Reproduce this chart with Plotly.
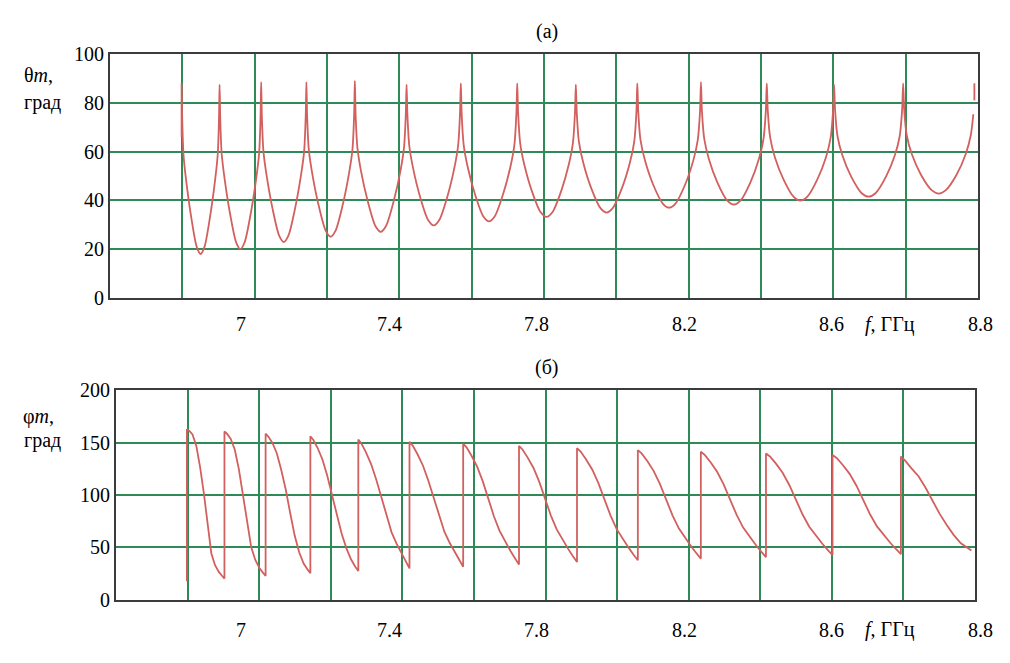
import plotly.graph_objects as go

# ---------------- data ----------------
F_PEAK = [6.798, 6.903, 7.018, 7.143, 7.277, 7.420, 7.570, 7.726,
          7.888, 8.058, 8.234, 8.416, 8.602, 8.793, 8.990]

THETA_FRAC = [0, 0.015, 0.05, 0.12, 0.25, 0.4, 0.5, 0.6, 0.75, 0.88, 0.95, 0.985]
THETA_START = 66.0
THETA_ROWS = [
    [88.0, 74.0, 58.6, 48.1, 33.4, 20.8, 18.0, 20.8, 33.4, 48.1, 58.6, 74.0],
    [87.5, 74.2, 59.2, 48.9, 34.7, 22.7, 20.0, 22.7, 34.7, 48.9, 59.2, 74.2],
    [88.5, 74.6, 60.1, 50.2, 36.7, 25.4, 22.9, 25.4, 36.7, 50.2, 60.1, 74.6],
    [88.5, 74.9, 60.8, 51.1, 38.2, 27.5, 25.1, 27.5, 38.2, 51.1, 60.8, 74.9],
    [89.0, 75.1, 61.5, 51.9, 39.6, 29.4, 27.1, 29.4, 39.6, 51.9, 61.5, 75.1],
    [87.5, 75.5, 62.4, 53.2, 41.4, 31.8, 29.7, 31.8, 41.4, 53.2, 62.4, 75.5],
    [88.0, 75.7, 62.9, 53.9, 42.6, 33.4, 31.4, 33.4, 42.6, 53.9, 62.9, 75.7],
    [88.0, 75.8, 63.5, 54.7, 43.8, 35.1, 33.2, 35.1, 43.8, 54.7, 63.5, 75.8],
    [87.5, 76.1, 64.1, 55.5, 45.0, 36.8, 35.0, 36.8, 45.0, 55.5, 64.1, 76.1],
    [88.0, 76.4, 64.8, 56.4, 46.4, 38.7, 37.0, 38.7, 46.4, 56.4, 64.8, 76.4],
    [88.5, 76.5, 65.2, 57.0, 47.3, 39.9, 38.3, 39.9, 47.3, 57.0, 65.2, 76.5],
    [88.0, 76.7, 65.8, 57.7, 48.5, 41.4, 39.9, 41.4, 48.5, 57.7, 65.8, 76.7],
    [87.5, 77.0, 66.3, 58.5, 49.6, 42.9, 41.5, 42.9, 49.6, 58.5, 66.3, 77.0],
    [88.0, 77.2, 66.8, 59.1, 50.5, 44.2, 42.8, 44.2, 50.5, 59.1, 66.8, 75.3],
]
THETA_END_SPIKE = [81.0, 88.0]

PHI_FRAC = [0, 0.06, 0.15, 0.25, 0.35, 0.45, 0.55, 0.65, 0.75, 0.85, 0.93, 1.0]
PHI_START = 17.8
PHI_ROWS = [
    [162.8, 161.4, 157.8, 147.1, 127.2, 102.2, 70.2, 44.5, 33.1, 26.7, 23.2, 20.3],
    [160.6, 158.5, 153.7, 143.4, 124.8, 101.3, 73.8, 50.4, 38.0, 30.4, 26.2, 22.8],
    [158.5, 155.8, 149.9, 139.9, 123.9, 105.3, 82.6, 61.3, 45.4, 34.7, 29.4, 25.4],
    [156.0, 152.8, 145.1, 134.2, 118.8, 100.8, 81.5, 63.6, 49.4, 38.5, 32.1, 27.6],
    [153.0, 149.3, 140.7, 129.6, 114.9, 97.7, 79.2, 64.4, 53.4, 43.5, 36.2, 30.0],
    [150.8, 147.2, 138.9, 128.2, 113.9, 97.2, 79.3, 65.0, 54.2, 44.7, 37.6, 31.6],
    [149.0, 145.5, 137.5, 127.1, 113.3, 97.1, 79.8, 66.0, 55.6, 46.4, 39.5, 33.7],
    [146.8, 143.5, 135.7, 125.8, 112.5, 97.0, 80.4, 67.2, 57.2, 48.4, 41.7, 36.2],
    [144.7, 141.5, 134.0, 124.4, 111.6, 96.6, 80.6, 67.7, 58.1, 49.6, 43.1, 37.8],
    [142.8, 139.7, 132.5, 123.1, 110.7, 96.2, 80.7, 68.3, 59.0, 50.7, 44.5, 39.3],
    [141.3, 138.3, 131.3, 122.2, 110.1, 96.1, 81.0, 68.9, 59.9, 51.9, 45.8, 40.8],
    [139.7, 136.8, 130.0, 121.3, 109.6, 96.0, 81.4, 69.8, 61.0, 53.3, 47.5, 42.6],
    [138.2, 135.4, 128.7, 120.2, 108.9, 95.6, 81.4, 70.1, 61.6, 54.0, 48.3, 43.6],
    [136.7, 132.8, 125.5, 118.0, 107.0, 94.5, 82.0, 71.5, 61.8, 54.0, 50.0, 47.0],
]

X_TICK_LABELS = ["7", "7.4", "7.8", "8.2", "8.6", "8.8"]
X_LABEL_PX = [240.5, 389, 536.7, 684, 831.7, 980]

theta_f, theta_v = [F_PEAK[0]], [THETA_START]
for i, row in enumerate(THETA_ROWS):
    a, b = F_PEAK[i], F_PEAK[i + 1]
    for s, v in zip(THETA_FRAC, row):
        theta_f.append(a + s * (b - a))
        theta_v.append(v)
theta_f += [None, F_PEAK[-1], F_PEAK[-1]]
theta_v += [None] + THETA_END_SPIKE

phi_f, phi_v = [F_PEAK[0], F_PEAK[0]], [PHI_START, PHI_ROWS[0][0]]
for i, row in enumerate(PHI_ROWS):
    a, b = F_PEAK[i], F_PEAK[i + 1]
    for s, v in zip(PHI_FRAC, row):
        phi_f.append(a + s * (b - a))
        phi_v.append(v)

RED = "#d2605e"
GREEN = "#2e8b57"
FRAME = "#3c3c3c"
FONT = "Liberation Serif"
FS = 20

# the page keeps the browser's default 8 px body margin, so the figure is
# made 16 px smaller and every page-pixel position is shifted by 8 px
OFF = 8
PAGE_W, PAGE_H = 1010, 663
W, H = PAGE_W - 2 * OFF, PAGE_H - 2 * OFF


def px_x(px):
    return (px - OFF) / W


def px_y(py):
    return 1 - (py - OFF) / H


fig = go.Figure()
fig.add_trace(go.Scatter(x=theta_f, y=theta_v, mode="lines",
                         line=dict(color=RED, width=1.8, shape="spline", smoothing=0.8),
                         xaxis="x", yaxis="y", hoverinfo="skip"))
fig.add_trace(go.Scatter(x=phi_f, y=phi_v, mode="lines",
                         line=dict(color=RED, width=1.8), xaxis="x2", yaxis="y2",
                         hoverinfo="skip"))

xcommon = dict(range=[6.6, 9.0], tick0=6.8, dtick=0.2, showticklabels=False,
               showgrid=True, gridcolor=GREEN, gridwidth=2, zeroline=False,
               showline=True, linecolor=FRAME, linewidth=2, mirror=True, ticks="")
ycommon = dict(showgrid=True, gridcolor=GREEN, gridwidth=2, zeroline=False,
               showline=True, linecolor=FRAME, linewidth=2, mirror=True, ticks="",
               tickfont=dict(family=FONT, size=FS, color="black"))

fig.update_layout(
    width=W, height=H, margin=dict(l=0, r=0, t=0, b=0),
    font=dict(family=FONT, size=FS, color="black"),
    paper_bgcolor="white", plot_bgcolor="white", showlegend=False,
    xaxis=dict(domain=[px_x(110), px_x(978)], anchor="y", **xcommon),
    yaxis=dict(domain=[px_y(296.7), px_y(44.3)], anchor="x",
               range=[0, 100], tick0=0, dtick=20, **ycommon),
    xaxis2=dict(domain=[px_x(116), px_x(975)], anchor="y2", **xcommon),
    yaxis2=dict(domain=[px_y(609.3), px_y(392.3)], anchor="x2",
                range=[0, 200], tick0=0, dtick=50, **ycommon),
)

ann_font = dict(family=FONT, size=FS, color="black")


def label(text, px, py):
    return dict(text=text, x=px_x(px), y=px_y(py), xref="paper", yref="paper",
                showarrow=False, font=ann_font, xanchor="center", yanchor="middle")


anns = []
for lab, px in zip(X_TICK_LABELS, X_LABEL_PX):
    anns.append(label(lab, px, 324))
    anns.append(label(lab, px, 640))
for yy in (324, 640):
    anns.append(label("<i>f</i>, ГГц", 890, yy))
anns += [
    label("(а)", 546.7, 21),
    label("(б)", 546.7, 369),
    label("θ<i>m</i>,", 38, 66),
    label("град", 42, 94),
    label("φ<i>m</i>,", 38, 420),
    label("град", 42, 444),
]
fig.update_layout(annotations=anns)

fig.write_html("out.html", config={"displayModeBar": False})
